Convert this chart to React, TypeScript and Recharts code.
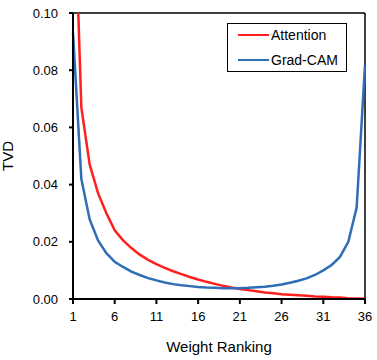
import React from 'react';
import { LineChart, Line, XAxis, YAxis, ReferenceLine, Label } from 'recharts';

const ranks = Array.from({ length: 36 }, (_, i) => i + 1);

const attention = [
  0.157, 0.067, 0.047, 0.037, 0.030, 0.024, 0.0205, 0.0178, 0.0155, 0.0137,
  0.0122, 0.0109, 0.0097, 0.0087, 0.0077, 0.0068, 0.006, 0.0053, 0.0046, 0.004,
  0.0035, 0.0031, 0.0027, 0.0023, 0.002, 0.0017, 0.0015, 0.0013, 0.0011, 0.0009,
  0.0008, 0.0006, 0.0005, 0.0003, 0.0002, 0.0001,
];

const gradCam = [
  0.093, 0.042, 0.0278, 0.0205, 0.016, 0.013, 0.0112, 0.0096, 0.0084, 0.0073,
  0.0065, 0.0058, 0.0052, 0.0048, 0.0045, 0.0042, 0.004, 0.0039, 0.0038, 0.0038,
  0.0038, 0.0039, 0.0041, 0.0043, 0.0046, 0.0051, 0.0057, 0.0064, 0.0072, 0.0084,
  0.0100, 0.0119, 0.0147, 0.0200, 0.0320, 0.0818,
];

const xTicks = [1, 6, 11, 16, 21, 26, 31, 36];
const yTicks = [0, 0.02, 0.04, 0.06, 0.08, 0.1];

const series = [
  { key: 'attention', name: 'Attention', color: '#ff1f1f' },
  { key: 'gradCam', name: 'Grad-CAM', color: '#2f6db4' },
];

const data = ranks.map((r, i) => ({ rank: r, attention: attention[i], gradCam: gradCam[i] }));

const FONT = '"Liberation Sans", Arial, sans-serif';

// legend drawn as an overlay so it doesn't eat plot space
const LegendBox = () => (
  <div
    style={{
      position: 'absolute',
      left: 227,
      top: 23,
      border: '1.5px solid #000',
      background: '#fff',
      width: 120,
      height: 49,
      boxSizing: 'border-box',
      fontFamily: FONT,
      fontSize: 14,
      color: '#000',
      padding: '1px 0 0 10px',
    }}
  >
    {series.map(s => (
      <div key={s.key} style={{ display: 'flex', alignItems: 'center', height: 20, marginBottom: 5 }}>
        <span style={{ display: 'inline-block', width: 31, height: 2.5, background: s.color, marginRight: 2 }} />
        <span>{s.name}</span>
      </div>
    ))}
  </div>
);

export default function App() {
  return (
    <div style={{ position: 'absolute', left: 0, top: 0, width: 377, height: 360, background: '#fff' }}>
      <LineChart width={377} height={360} data={data} margin={{ top: 13, right: 12, left: 0, bottom: 0 }}>
        <XAxis
          dataKey="rank"
          type="number"
          domain={[1, 36]}
          ticks={xTicks}
          height={61}
          stroke="#000"
          strokeWidth={2}
          tickSize={5}
          tick={{ fill: '#000', fontSize: 13, fontFamily: FONT }}
          tickMargin={8}
        >
          <Label value="Weight Ranking" position="insideBottom" offset={8} style={{ fill: '#000', fontSize: 15, fontFamily: FONT }} />
        </XAxis>
        <YAxis
          type="number"
          domain={[0, 0.1]}
          allowDataOverflow
          ticks={yTicks}
          width={73}
          stroke="#000"
          strokeWidth={2}
          tickSize={4}
          tickFormatter={(v: number) => v.toFixed(2)}
          tick={{ fill: '#000', fontSize: 13, fontFamily: FONT }}
          tickMargin={11}
        >
          <Label value="TVD" angle={-90} position="insideLeft" offset={8} style={{ fill: '#000', fontSize: 15, fontFamily: FONT, textAnchor: 'middle' }} />
        </YAxis>
        <ReferenceLine y={0.1} stroke="#000" strokeWidth={1.5} />
        <ReferenceLine x={36} stroke="#000" strokeWidth={1.5} />
        {series.map(s => (
          <Line
            key={s.key}
            type="linear"
            dataKey={s.key}
            name={s.name}
            stroke={s.color}
            strokeWidth={2.5}
            dot={false}
            isAnimationActive={false}
          />
        ))}
      </LineChart>
      <LegendBox />
    </div>
  );
}
